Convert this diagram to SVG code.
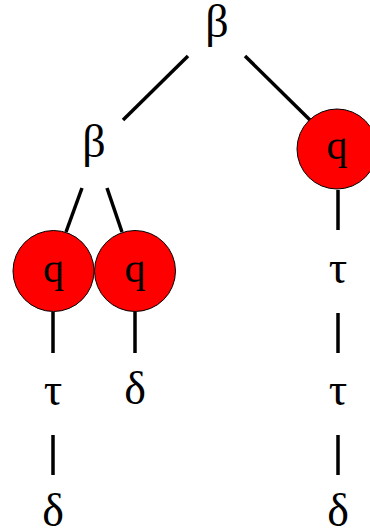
<svg xmlns="http://www.w3.org/2000/svg" width="370" height="531" viewBox="0 0 370 531">
<style>
text{font-family:"Liberation Serif","Times New Roman",serif;font-size:46px;text-anchor:middle;fill:#000}
text.q{font-size:42px}
.c{fill:#ff0000;stroke:#000;stroke-width:1}
#connectors line{stroke:#000;stroke-width:3.5}
</style>
<rect width="370" height="531" fill="#fff"/>
<g id="connectors">
<line x1="188" y1="56" x2="123" y2="120"/>
<line x1="245" y1="56" x2="310" y2="120"/>
<line x1="82" y1="188" x2="66" y2="232"/>
<line x1="107" y1="188" x2="122" y2="232"/>
<line x1="53" y1="312" x2="53" y2="353"/>
<line x1="135" y1="312" x2="135" y2="353"/>
<line x1="338" y1="190" x2="338" y2="230"/>
<line x1="338" y1="313" x2="338" y2="353"/>
<line x1="338" y1="435" x2="338" y2="475"/>
<line x1="53" y1="435" x2="53" y2="475"/>
</g>
<g id="root"><text x="217" y="37">β</text></g>
<g id="beta2"><text x="94" y="157">β</text></g>
<g id="q1"><circle class="c" cx="337" cy="149" r="40"/><text class="q" x="337" y="159">q</text></g>
<g id="q2"><circle class="c" cx="53.5" cy="271" r="40.5"/><text class="q" x="53.5" y="282">q</text></g>
<g id="q3"><circle class="c" cx="135" cy="271" r="40.5"/><text class="q" x="135" y="282">q</text></g>
<g id="tau1"><text x="53" y="405">τ</text></g>
<g id="delta1"><text x="53" y="526">δ</text></g>
<g id="delta2"><text x="135" y="404">δ</text></g>
<g id="tau2"><text x="338" y="283">τ</text></g>
<g id="tau3"><text x="338" y="405">τ</text></g>
<g id="delta3"><text x="338" y="526">δ</text></g>
</svg>
